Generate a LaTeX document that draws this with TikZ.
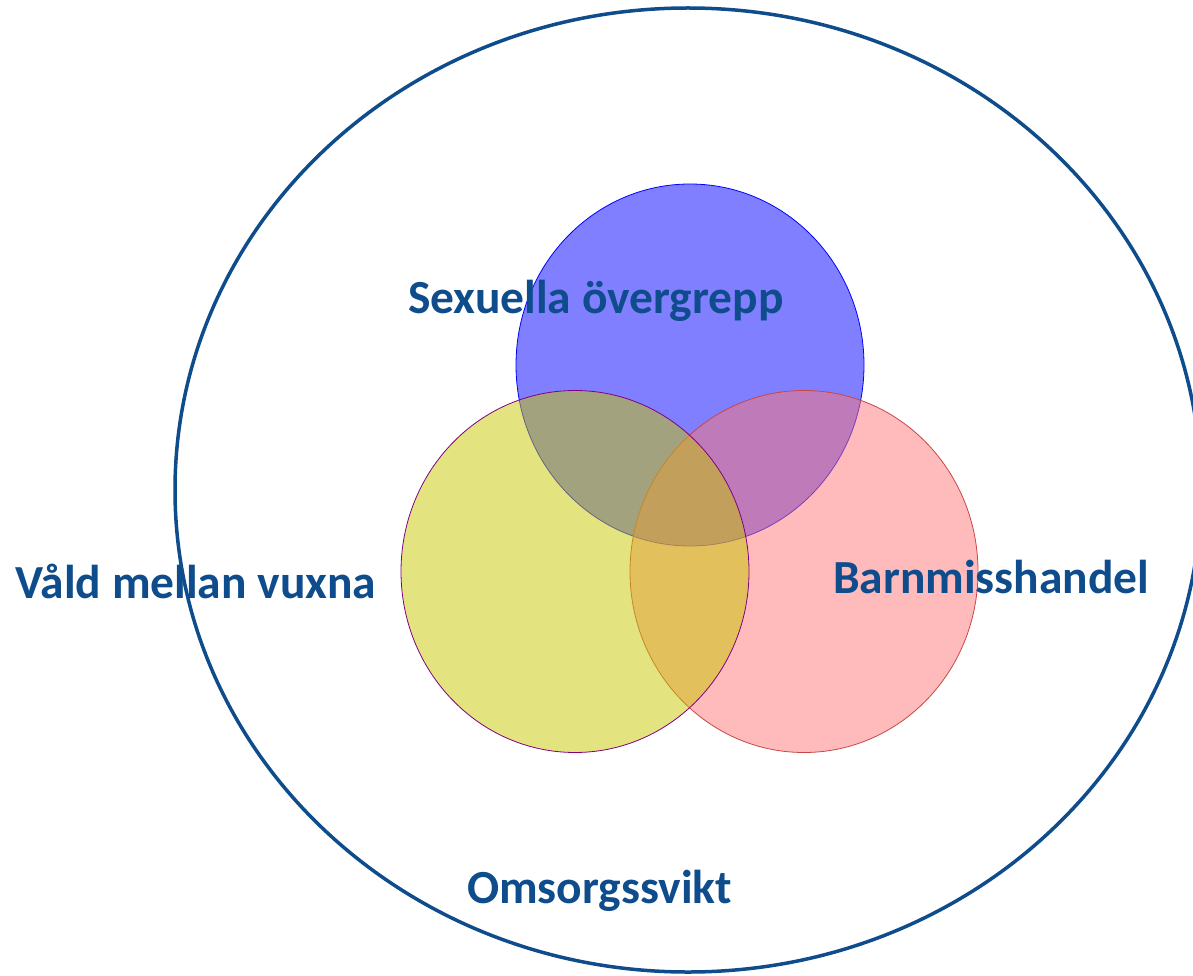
\documentclass[tikz,border=0pt]{standalone}
\usepackage{fontspec}
\setmainfont{Carlito}
\usetikzlibrary{shapes.geometric}
\definecolor{navy}{RGB}{14,76,140}
\definecolor{vblue}{RGB}{0,0,255}
\definecolor{vpink}{RGB}{255,119,119}
\definecolor{vpinkline}{RGB}{200,70,70}
\definecolor{vyellow}{RGB}{199,199,0}
\definecolor{vpurple}{RGB}{128,0,128}
\begin{document}
\begin{tikzpicture}[x=1pt,y=-1pt,
  venn/.style={ellipse, minimum width=348pt, minimum height=362pt, inner sep=0pt, line width=0.8pt, fill opacity=0.5},
  lbl/.style={anchor=base west, inner sep=0pt, text=navy, font=\fontsize{47.5}{52}\selectfont\bfseries}]
\useasboundingbox (0,0) rectangle (1193,976);
\node[ellipse, draw=navy, line width=3.5pt, minimum width=1026pt, minimum height=964pt, inner sep=0pt] (outer) at (688,490) {};
\node[venn, draw=vblue, fill=vblue] (sex) at (690,365) {};
\node[venn, draw=vpinkline, fill=vpink] (barn) at (804,571.5) {};
\node[venn, draw=vpurple, fill=vyellow] (vald) at (575,571.5) {};
\node[lbl] (tsex) at (408,313) {Sexuella övergrepp};
\node[lbl] (tvald) at (15,598) {Våld mellan vuxna};
\node[lbl] (tbarn) at (833,593) {Barnmisshandel};
\node[lbl] (tomsorg) at (467,903) {Omsorgssvikt};
\end{tikzpicture}
\end{document}
